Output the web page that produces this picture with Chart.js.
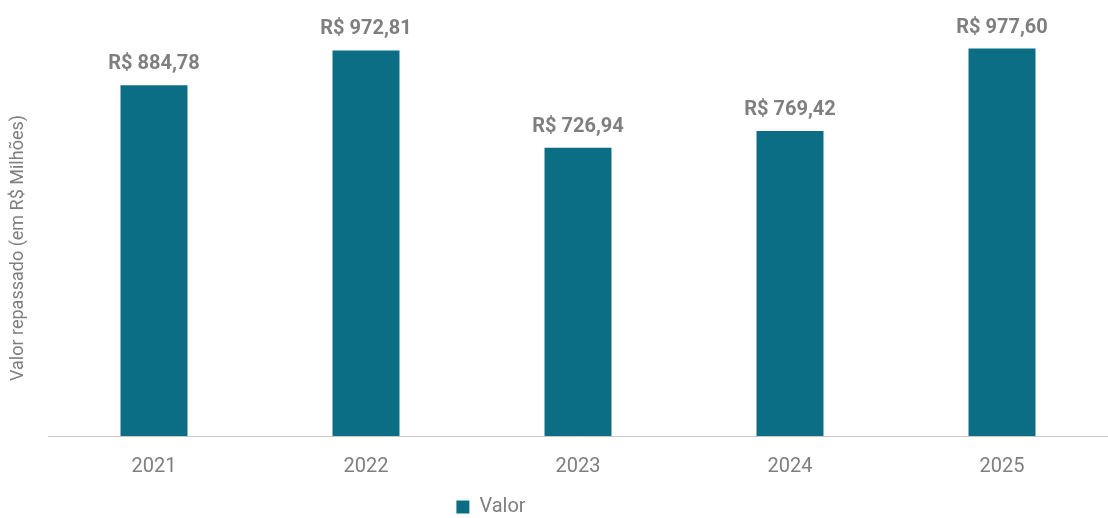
<!DOCTYPE html>
<html>
<head>
<meta charset="utf-8">
<script src="https://cdn.jsdelivr.net/npm/chart.js@4/dist/chart.umd.min.js"></script>
<style>
  html, body { margin: 0; padding: 0; background: #fff; }
  #wrap { width: 1108px; height: 518px; }
</style>
</head>
<body>
<div id="wrap"><canvas id="chart"></canvas></div>
<script>
const YEARS = ["2021", "2022", "2023", "2024", "2025"];
const VALORES = [884.78, 972.81, 726.94, 769.42, 977.60];
const SERIES_LABEL = "Valor";
const Y_TITLE = "Valor repassado (em R$ Milhões)";

const FONT = "'Roboto', 'Liberation Sans', sans-serif";
const BAR_COLOR = "#0b6e84";
const TEXT_GRAY = "#7f7f7f";

const fmt = v => "R$ " + v.toFixed(2).replace(".", ",");

// legend sits a bit left of centre and lower in the original
const legendNudge = {
  id: "legendNudge",
  afterLayout(chart) {
    const lg = chart.legend;
    lg.left -= 87; lg.right -= 87;
    lg.top += 9; lg.bottom += 9;
  }
};

// value labels above each bar + rotated y title
const valueLabels = {
  id: "valueLabels",
  afterDatasetsDraw(chart) {
    const ctx = chart.ctx;
    const meta = chart.getDatasetMeta(0);
    ctx.save();
    ctx.font = "bold 20px " + FONT;
    ctx.fillStyle = TEXT_GRAY;
    ctx.textAlign = "center";
    ctx.textBaseline = "alphabetic";
    meta.data.forEach((bar, i) => {
      ctx.fillText(fmt(VALORES[i]), bar.x, bar.y - 16);
    });
    ctx.restore();

    ctx.save();
    ctx.translate(18, 248);
    ctx.rotate(-Math.PI / 2);
    ctx.font = "18px " + FONT;
    ctx.fillStyle = TEXT_GRAY;
    ctx.textAlign = "center";
    ctx.textBaseline = "middle";
    ctx.fillText(Y_TITLE, 0, 0);
    ctx.restore();
  }
};

new Chart(document.getElementById("chart").getContext("2d"), {
  type: "bar",
  data: {
    labels: YEARS,
    datasets: [{
      label: SERIES_LABEL,
      data: VALORES,
      backgroundColor: BAR_COLOR,
      borderWidth: 0,
      barPercentage: 0.316,
      categoryPercentage: 1
    }]
  },
  options: {
    responsive: true,
    maintainAspectRatio: false,
    animation: false,
    layout: { padding: { left: 48, right: 0, top: 0, bottom: 0 } },
    scales: {
      x: {
        grid: { display: false },
        border: { display: true, color: "#c8c8c8", width: 1 },
        ticks: { color: TEXT_GRAY, font: { family: FONT, size: 20 }, padding: 11 },
        afterFit(scale) { scale.height -= 2; }
      },
      y: {
        display: false,
        min: 0,
        max: 1100
      }
    },
    plugins: {
      legend: {
        position: "bottom",
        labels: {
          color: TEXT_GRAY,
          font: { family: FONT, size: 20 },
          boxWidth: 13,
          boxHeight: 13,
          padding: 0
        }
      },
      tooltip: { enabled: false }
    }
  },
  plugins: [legendNudge, valueLabels]
});
</script>
</body>
</html>
